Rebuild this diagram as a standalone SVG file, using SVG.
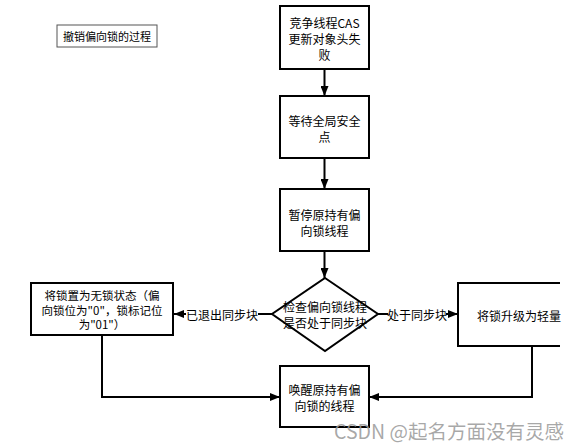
<svg xmlns="http://www.w3.org/2000/svg" width="580" height="448" viewBox="0 0 580 448">
<style>
.box{fill:#fff;stroke:#000;stroke-width:2}
.ln{fill:none;stroke:#000;stroke-width:2}
text{font-family:"Noto Sans CJK SC","Liberation Sans",sans-serif;font-size:12px;fill:#000;text-anchor:middle;dominant-baseline:central}
.sm{font-size:11.5px}
.lbl{fill:#fff;stroke:none}
</style>
<defs>
<marker id="arr" viewBox="0 0 10 8" refX="10" refY="4" markerWidth="10" markerHeight="8" markerUnits="userSpaceOnUse" orient="auto">
<path d="M0,0 L10,4 L0,8 z" fill="#000"/>
</marker>
</defs>
<rect width="580" height="448" fill="#fff"/>
<g id="title">
<rect x="57" y="25" width="100" height="22" fill="#fff" stroke="#555" stroke-width="1"/>
<text x="107" y="36" style="font-size:11px">撤销偏向锁的过程</text>
</g>
<g id="connectors">
<line class="ln" x1="324.5" y1="69" x2="324.5" y2="96" marker-end="url(#arr)"/>
<line class="ln" x1="324.5" y1="158" x2="324.5" y2="189" marker-end="url(#arr)"/>
<line class="ln" x1="324.5" y1="251" x2="324.5" y2="278" marker-end="url(#arr)"/>
<line class="ln" x1="272" y1="314" x2="174" y2="314" marker-end="url(#arr)"/>
<rect class="lbl" x="186" y="306" width="72" height="16"/>
<text x="222" y="314">已退出同步块</text>
<line class="ln" x1="378" y1="314" x2="458" y2="314" marker-end="url(#arr)"/>
<rect class="lbl" x="388" y="306" width="58" height="16"/>
<text x="417" y="314">处于同步块</text>
<polyline class="ln" points="102,335 102,397 280,397" marker-end="url(#arr)"/>
<polyline class="ln" points="532,346 532,397 369,397" marker-end="url(#arr)"/>
</g>
<g id="n1">
<rect class="box" x="280" y="6" width="89" height="63"/>
<text x="324.5" y="22">竞争线程CAS</text>
<text x="324.5" y="38">更新对象头失</text>
<text x="324.5" y="54">败</text>
</g>
<g id="n2">
<rect class="box" x="280" y="96" width="89" height="62"/>
<text x="324.5" y="120">等待全局安全</text>
<text x="324.5" y="136">点</text>
</g>
<g id="n3">
<rect class="box" x="280" y="189" width="89" height="62"/>
<text x="324.5" y="214">暂停原持有偏</text>
<text x="324.5" y="230">向锁线程</text>
</g>
<g id="n4">
<polygon class="box" points="325,278 378,314 325,351 272,314"/>
<text x="325" y="306.5">检查偏向锁线程</text>
<text x="325" y="322">是否处于同步块</text>
</g>
<g id="n5">
<rect class="box" x="31" y="283" width="142" height="52"/>
<text class="sm" x="102" y="295">将锁置为无锁状态（偏</text>
<text class="sm" x="102" y="309.5">向锁位为"0"，锁标记位</text>
<text class="sm" x="102" y="324">为"01"）</text>
</g>
<g id="n6">
<rect x="458" y="283" width="110" height="63" fill="#fff"/>
<path class="ln" d="M560,283 H458 V346 H560"/>
<text x="519" y="315">将锁升级为轻量</text>
</g>
<g id="n7">
<rect class="box" x="280" y="366" width="89" height="61"/>
<text x="324.5" y="389">唤醒原持有偏</text>
<text x="324.5" y="405">向锁的线程</text>
</g>
<text x="449" y="430" style="font-size:19.5px;fill:#999;fill-opacity:0.85">CSDN @起名方面没有灵感</text>
</svg>
